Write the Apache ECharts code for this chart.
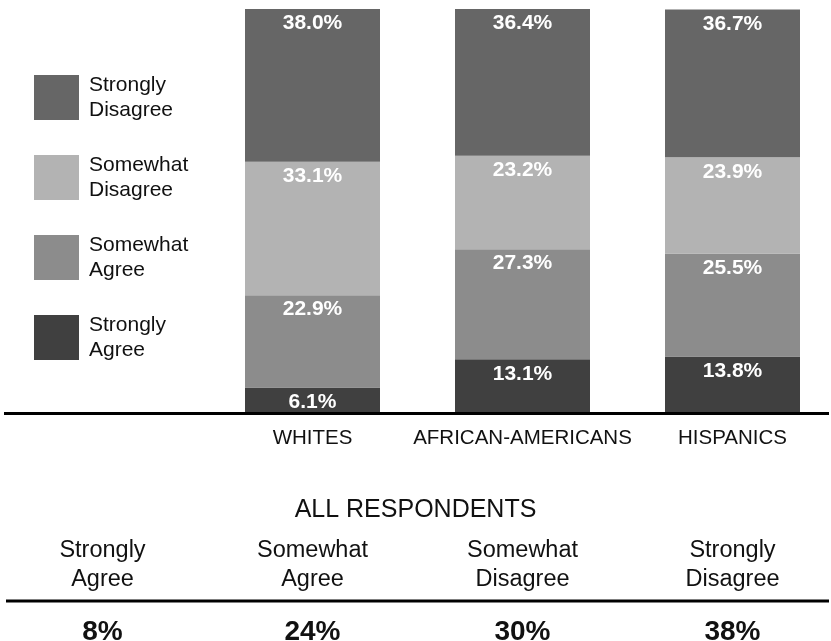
<!DOCTYPE html>
<html>
<head>
<meta charset="utf-8">
<script src="https://cdn.jsdelivr.net/npm/echarts@6/dist/echarts.min.js"></script>
<style>
  html, body { margin: 0; padding: 0; background: #ffffff; }
  #chart { width: 831px; height: 641px; }
</style>
</head>
<body>
<div id="chart"></div>
<script>
// Groups along the horizontal axis
const groups = ['WHITES', 'AFRICAN-AMERICANS', 'HISPANICS'];

// Response shares (%) per group, stacked bottom to top
const stronglyAgree    = [6.1, 13.1, 13.8];
const somewhatAgree    = [22.9, 27.3, 25.5];
const somewhatDisagree = [33.1, 23.2, 23.9];
const stronglyDisagree = [38.0, 36.4, 36.7];

// Summary row for all respondents
const summaryLabels = ['Strongly\nAgree', 'Somewhat\nAgree', 'Somewhat\nDisagree', 'Strongly\nDisagree'];
const summaryValues = ['8%', '24%', '30%', '38%'];

const FONT = '"Liberation Sans", Arial, Helvetica, sans-serif';

const seriesDefs = [
  { name: 'Strongly Agree',    data: stronglyAgree,    color: '#404040' },
  { name: 'Somewhat Agree',    data: somewhatAgree,    color: '#8c8c8c' },
  { name: 'Somewhat Disagree', data: somewhatDisagree, color: '#b3b3b3' },
  { name: 'Strongly Disagree', data: stronglyDisagree, color: '#666666' }
];

const chart = echarts.init(document.getElementById('chart'), null, { renderer: 'canvas' });

chart.setOption({
  animation: false,
  backgroundColor: '#ffffff',
  grid: {
    left: 207.5, width: 630, top: 9, bottom: 229,
    containLabel: false,
    outerBoundsMode: 'none'
  },
  legend: {
    orient: 'vertical',
    left: 34,
    top: 72.5,
    padding: 0,
    itemWidth: 45,
    itemHeight: 45,
    itemGap: 30,
    icon: 'rect',
    data: ['Strongly Disagree', 'Somewhat Disagree', 'Somewhat Agree', 'Strongly Agree'],
    formatter: function (name) { return name.replace(' ', '\n'); },
    textStyle: {
      fontFamily: FONT,
      fontSize: 21,
      lineHeight: 25,
      color: '#111111',
      padding: [0, 0, 0, 5]
    },
    selectedMode: false
  },
  xAxis: {
    type: 'category',
    data: groups,
    axisLine: { show: false },
    axisTick: { show: false },
    axisLabel: {
      interval: 0,
      color: '#111111',
      fontFamily: FONT,
      fontSize: 20.5,
      margin: 16
    }
  },
  yAxis: {
    type: 'value',
    min: 0,
    max: 100,
    show: false,
    splitLine: { show: false }
  },
  series: seriesDefs.map(function (s) {
    return {
      name: s.name,
      type: 'bar',
      stack: 'total',
      barWidth: 135,
      data: s.data,
      itemStyle: { color: s.color },
      label: {
        show: true,
        position: 'insideTop',
        distance: 4,
        color: '#ffffff',
        fontFamily: FONT,
        fontWeight: 'bold',
        fontSize: 21,
        formatter: function (p) { return p.value.toFixed(1) + '%'; }
      }
    };
  })
});

// Baseline, header and summary table placed relative to the axis
const baseY = chart.convertToPixel({ yAxisIndex: 0 }, 0);
const c0 = chart.convertToPixel({ xAxisIndex: 0 }, 0);
const c1 = chart.convertToPixel({ xAxisIndex: 0 }, 1);
const step = c1 - c0;
const colX = summaryLabels.map(function (_, i) { return c0 + (i - 1) * step; });

const elements = [
  {
    type: 'line',
    shape: { x1: 4, y1: baseY + 1.5, x2: 829, y2: baseY + 1.5 },
    style: { stroke: '#000000', lineWidth: 3 },
    z: 10
  },
  {
    type: 'text',
    x: 415.5, y: 510,
    style: {
      text: 'ALL RESPONDENTS',
      fill: '#111111',
      font: '25px ' + FONT,
      textAlign: 'center',
      textVerticalAlign: 'middle'
    }
  },
  {
    type: 'line',
    shape: { x1: 6, y1: 601, x2: 829, y2: 601 },
    style: { stroke: '#000000', lineWidth: 3 }
  }
];

summaryLabels.forEach(function (label, i) {
  elements.push({
    type: 'text',
    x: colX[i], y: 565,
    style: {
      text: label,
      fill: '#111111',
      font: '23.5px ' + FONT,
      lineHeight: 29,
      textAlign: 'center',
      textVerticalAlign: 'middle'
    }
  });
  elements.push({
    type: 'text',
    x: colX[i], y: 632,
    style: {
      text: summaryValues[i],
      fill: '#111111',
      font: 'bold 28px ' + FONT,
      textAlign: 'center',
      textVerticalAlign: 'middle'
    }
  });
});

chart.setOption({ graphic: { elements: elements } });
</script>
</body>
</html>
